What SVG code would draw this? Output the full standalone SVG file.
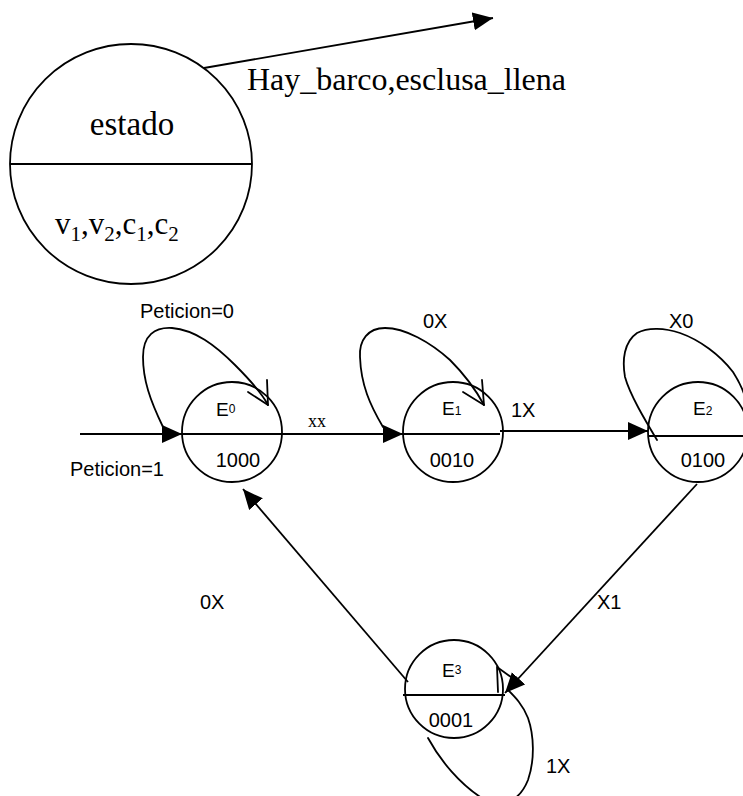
<svg xmlns="http://www.w3.org/2000/svg" width="743" height="796" viewBox="0 0 743 796">
  <style>
    .shape { fill: none; stroke: #000; stroke-width: 1.8; }
    .edge { fill: none; stroke: #000; stroke-width: 1.8; }
    .loop { fill: none; stroke: #000; stroke-width: 1.8; stroke-linejoin: round; stroke-linecap: round; }
    .serif { font-family: "Liberation Serif", "Times New Roman", serif; fill: #000; }
    .sans { font-family: "Liberation Sans", Arial, sans-serif; fill: #000; }
    .lbl { font-size: 20px; }
    .name { font-size: 19px; }
    .idx { font-size: 12px; }
  </style>
  <defs>
    <marker id="head" markerUnits="userSpaceOnUse" markerWidth="22" markerHeight="20" refX="20" refY="9" orient="auto">
      <path d="M0,0 L20,9 L0,18 z" fill="#000"/>
    </marker>
  </defs>

  <!-- legend: state bubble with output arrow -->
  <g id="legend">
    <ellipse class="shape" cx="131" cy="164" rx="121" ry="120"/>
    <line class="shape" x1="10" y1="164" x2="252" y2="164"/>
    <text class="serif" x="132" y="135" font-size="33" text-anchor="middle">estado</text>
    <text class="serif" x="55" y="234" font-size="31">v<tspan font-size="21" dy="7">1</tspan><tspan dy="-7">,v</tspan><tspan font-size="21" dy="7">2</tspan><tspan dy="-7">,c</tspan><tspan font-size="21" dy="7">1</tspan><tspan dy="-7">,c</tspan><tspan font-size="21" dy="7">2</tspan></text>
  </g>

  <!-- states -->
  <g id="E0">
    <circle class="shape" cx="232" cy="432" r="50"/>
    <line class="shape" x1="182" y1="434" x2="282" y2="434"/>
    <text class="sans name" x="216" y="416">E<tspan class="idx" dy="-3">0</tspan></text>
    <text class="sans lbl" x="238" y="467" text-anchor="middle">1000</text>
  </g>
  <g id="E1">
    <circle class="shape" cx="453" cy="432" r="50"/>
    <line class="shape" x1="403" y1="434" x2="500" y2="434"/>
    <text class="sans name" x="442" y="415">E<tspan class="idx">1</tspan></text>
    <text class="sans lbl" x="452" y="467" text-anchor="middle">0010</text>
  </g>
  <g id="E2">
    <circle class="shape" cx="698" cy="432" r="50"/>
    <line class="shape" x1="648" y1="436" x2="743" y2="436"/>
    <text class="sans name" x="693" y="415">E<tspan class="idx">2</tspan></text>
    <text class="sans lbl" x="703" y="467" text-anchor="middle">0100</text>
  </g>
  <g id="E3">
    <circle class="shape" cx="454" cy="689" r="49"/>
    <line class="shape" x1="403" y1="695" x2="505" y2="695"/>
    <text class="sans name" x="442" y="677">E<tspan class="idx" dy="-3">3</tspan></text>
    <text class="sans lbl" x="451" y="727" text-anchor="middle">0001</text>
  </g>

  <!-- transitions -->
  <g id="connectors">
    <line class="edge" x1="204" y1="68" x2="493" y2="18" marker-end="url(#head)"/>
    <line class="edge" x1="80" y1="434" x2="182" y2="434" marker-end="url(#head)"/>
    <line class="edge" x1="282" y1="434" x2="403" y2="434" marker-end="url(#head)"/>
    <line class="edge" x1="500" y1="431" x2="648" y2="431" marker-end="url(#head)"/>
    <line class="edge" x1="697" y1="484" x2="505" y2="693" marker-end="url(#head)"/>
    <line class="edge" x1="408" y1="682" x2="243" y2="489" marker-end="url(#head)"/>

    <!-- self loops -->
    <path class="loop" d="M163,427 C150,400 143,380 143,357 C143,335 155,327 172,328 C195,330 215,345 235,365 C250,380 262,393 268,405"/>
    <path class="loop" d="M248,392 L268,405 L267,380"/>
    <path class="loop" d="M383,427 C370,405 361,385 360,357 C359,340 368,328 385,328 C405,328 430,342 450,360 C465,375 477,392 484,405"/>
    <path class="loop" d="M463,392 L484,405 L482,380"/>
    <path class="loop" d="M657,440 C645,420 630,395 625,377 C622,360 624,342 637,333 C648,327 665,328 680,333 C700,340 720,355 733,372 C740,383 745,395 746,402"/>
    <path class="loop" d="M428,738 C440,760 460,785 485,800 C505,808 520,800 528,780 C535,760 534,735 528,718 C523,705 515,697 508,690"/>
    <path class="loop" d="M498,692 L497,667 L511,677"/>
  </g>

  <!-- transition labels -->
  <g id="labels">
    <text class="serif" x="247" y="90" font-size="32">Hay_barco,esclusa_llena</text>
    <text class="sans lbl" x="140" y="318">Peticion=0</text>
    <text class="sans lbl" x="70" y="476">Peticion=1</text>
    <text class="serif" x="308" y="427" font-size="18">xx</text>
    <text class="sans lbl" x="423" y="328">0X</text>
    <text class="sans lbl" x="511" y="417">1X</text>
    <text class="sans lbl" x="669" y="328">X0</text>
    <text class="sans lbl" x="597" y="609">X1</text>
    <text class="sans lbl" x="200" y="609">0X</text>
    <text class="sans lbl" x="546" y="773">1X</text>
  </g>
</svg>
